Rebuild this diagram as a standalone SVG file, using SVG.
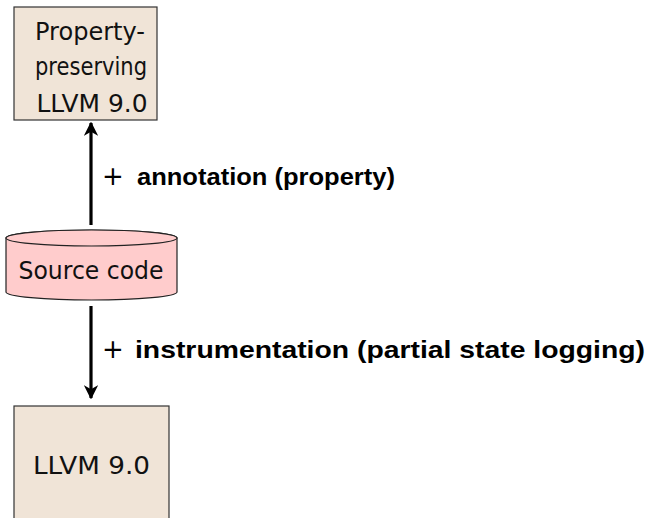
<svg xmlns="http://www.w3.org/2000/svg" width="650" height="518" viewBox="0 0 650 518">
<style>
.box{fill:#f0e4d7;stroke:#333;stroke-width:1.2}
.cyl{fill:#ffcccc;stroke:#222;stroke-width:1.2}
.t{font-family:"DejaVu Sans",sans-serif;font-size:24px;fill:#111;text-anchor:middle}
.l{font-family:"Liberation Sans",Arial,sans-serif;font-size:24px;fill:#000;font-weight:bold}
.p{font-family:"DejaVu Sans",sans-serif;font-size:26px;font-weight:normal}
.edge{stroke:#000;stroke-width:3.2;fill:none}
</style>
<defs>
<marker id="ah" viewBox="0 0 10 10" refX="9" refY="5" markerWidth="4.5" markerHeight="4.5" orient="auto" markerUnits="strokeWidth">
<path d="M0,0 L10,5 L0,10 L3,5 Z" fill="#000"/>
</marker>
</defs>
<rect width="650" height="518" fill="#fff"/>
<g id="top">
<rect class="box" x="14" y="7" width="143" height="113"/>
<text class="t" x="90" y="40" textLength="110" lengthAdjust="spacingAndGlyphs">Property-</text>
<text class="t" x="91" y="75" textLength="112" lengthAdjust="spacingAndGlyphs">preserving</text>
<text class="t" x="92" y="112" textLength="111" lengthAdjust="spacingAndGlyphs">LLVM 9.0</text>
</g>
<g id="source">
<path class="cyl" d="M6,238 L6,292 A85.5,8 0 0 0 177,292 L177,238 A85.5,8 0 0 0 6,238 Z"/>
<ellipse class="cyl" cx="91.5" cy="238" rx="85.5" ry="8"/>
<text class="t" x="91" y="279" textLength="145" lengthAdjust="spacingAndGlyphs">Source code</text>
</g>
<g id="bottom">
<rect class="box" x="14" y="406" width="155" height="120"/>
<text class="t" x="91.5" y="474" textLength="117" lengthAdjust="spacingAndGlyphs">LLVM 9.0</text>
</g>
<g id="connectors">
<line class="edge" x1="91" y1="225" x2="91" y2="123" marker-end="url(#ah)"/>
<line class="edge" x1="91" y1="306" x2="91" y2="398" marker-end="url(#ah)"/>
<text class="l" x="102" y="185"><tspan class="p">+</tspan><tspan x="137" textLength="258" lengthAdjust="spacingAndGlyphs">annotation (property)</tspan></text>
<text class="l" x="102" y="358"><tspan class="p">+</tspan><tspan x="135" textLength="510" lengthAdjust="spacingAndGlyphs">instrumentation (partial state logging)</tspan></text>
</g>
</svg>
